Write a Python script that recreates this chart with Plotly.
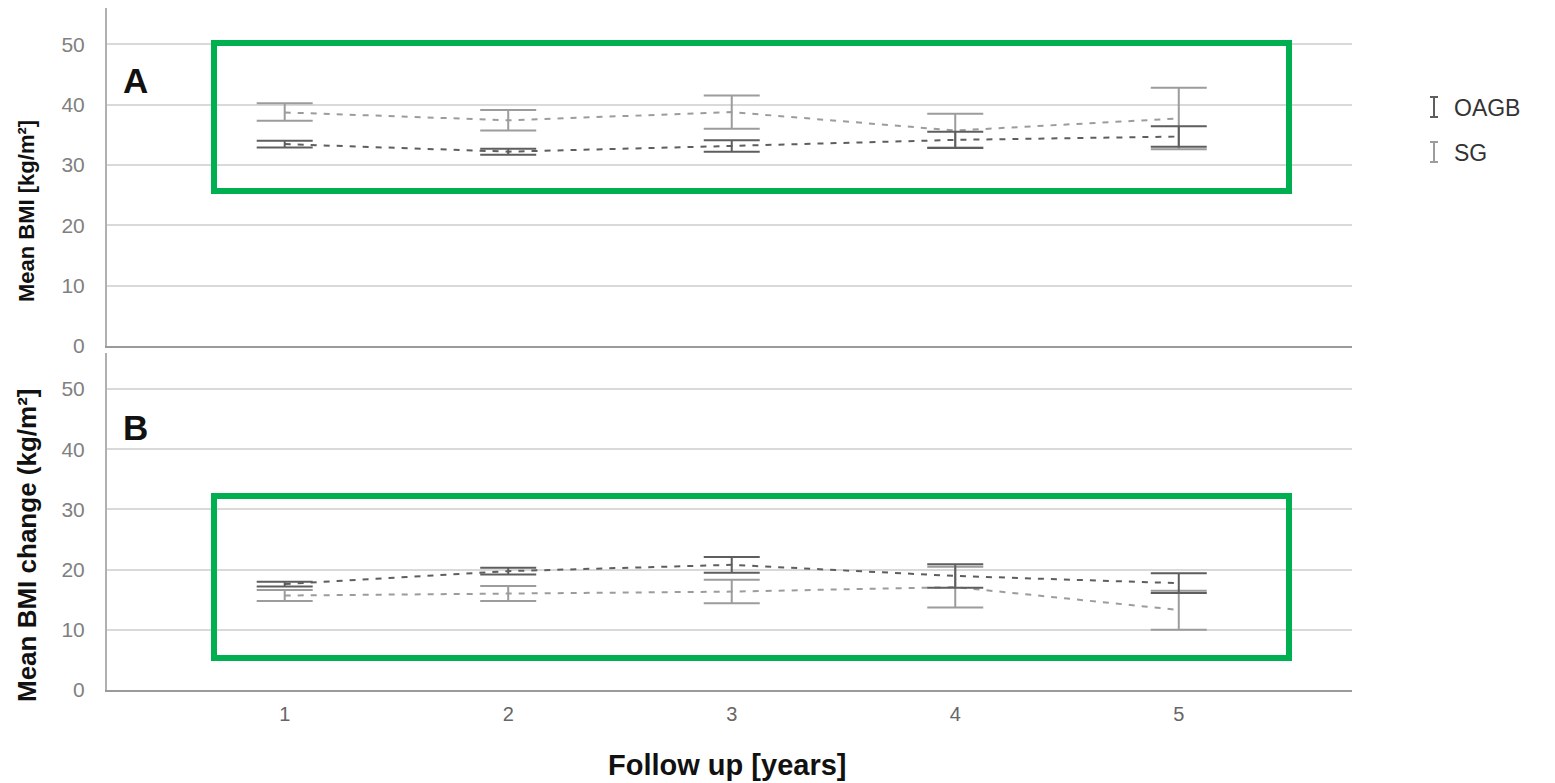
import plotly.graph_objects as go
from plotly.subplots import make_subplots

# Follow-up years
years = [1, 2, 3, 4, 5]

# Panel A: mean BMI with 95% CI bounds
bmi_oagb = [33.45, 32.2, 33.15, 34.15, 34.7]
bmi_oagb_lo = [32.9, 31.7, 32.2, 32.8, 33.0]
bmi_oagb_hi = [34.0, 32.7, 34.1, 35.5, 36.4]

bmi_sg = [38.7, 37.4, 38.75, 35.7, 37.7]
bmi_sg_lo = [37.3, 35.7, 36.0, 32.9, 32.6]
bmi_sg_hi = [40.2, 39.1, 41.5, 38.5, 42.8]

# Panel B: mean BMI change with 95% CI bounds
chg_oagb = [17.6, 19.75, 20.8, 18.95, 17.75]
chg_oagb_lo = [17.2, 19.2, 19.5, 17.0, 16.1]
chg_oagb_hi = [18.0, 20.3, 22.1, 20.9, 19.4]

chg_sg = [15.7, 16.05, 16.35, 17.1, 13.3]
chg_sg_lo = [14.8, 14.8, 14.4, 13.7, 10.0]
chg_sg_hi = [16.6, 17.3, 18.3, 20.5, 16.5]

y_ticks = [0, 10, 20, 30, 40, 50]

DARK = "#5e5e5e"
LIGHT = "#9c9c9c"
GREEN = "#00b050"

W, H = 1555, 783
L, R, T, B = 107, 203, 8, 93


def px_x(px):
    return (px - L) / (W - L - R)


def px_y(py):
    return (H - B - py) / (H - T - B)


fig = make_subplots(rows=2, cols=1, shared_xaxes=False, vertical_spacing=0.0)


def add_group(row, mean, lo, hi, color):
    fig.add_trace(
        go.Scatter(
            x=years,
            y=mean,
            mode="lines",
            line=dict(color=color, width=2, dash="6px,7px"),
            error_y=dict(
                type="data",
                symmetric=False,
                array=[h - m for h, m in zip(hi, mean)],
                arrayminus=[m - l for m, l in zip(mean, lo)],
                color=color,
                thickness=2,
                width=28,
            ),
            showlegend=False,
            hoverinfo="skip",
        ),
        row=row,
        col=1,
    )


add_group(1, bmi_sg, bmi_sg_lo, bmi_sg_hi, LIGHT)
add_group(1, bmi_oagb, bmi_oagb_lo, bmi_oagb_hi, DARK)
add_group(2, chg_sg, chg_sg_lo, chg_sg_hi, LIGHT)
add_group(2, chg_oagb, chg_oagb_lo, chg_oagb_hi, DARK)

SANS = "Liberation Sans, Arial, sans-serif"
tick_font = dict(family=SANS, size=21, color="#808080")

xaxis_common = dict(
    range=[0.205, 5.775],
    tickvals=years,
    showgrid=False,
    zeroline=False,
    showline=True,
    linecolor="#9a9a9a",
    linewidth=2,
    ticks="",
)
yaxis_common = dict(
    range=[0, 56],
    tickvals=y_ticks,
    showgrid=True,
    gridcolor="#d9d9d9",
    gridwidth=2,
    zeroline=False,
    showline=True,
    linecolor="#b0b0b0",
    linewidth=2,
    ticks="",
    ticklabelstandoff=16,
    tickfont=tick_font,
)

fig.update_layout(
    width=W,
    height=H,
    margin=dict(l=L, r=R, t=T, b=B),
    paper_bgcolor="white",
    plot_bgcolor="white",
    showlegend=False,
    xaxis=dict(**xaxis_common, domain=[0, 1], showticklabels=False),
    xaxis2=dict(
        **xaxis_common,
        domain=[0, 1],
        tickfont=dict(family=SANS, size=20, color="#666666"),
        ticklabelstandoff=5,
    ),
    yaxis=dict(**yaxis_common, domain=[px_y(346), 1]),
    yaxis2=dict(**yaxis_common, domain=[0, px_y(353)]),
)

# Axis titles
fig.add_annotation(
    x=px_x(727), y=px_y(765), xref="paper", yref="paper",
    text="<b>Follow up [years]</b>", showarrow=False,
    font=dict(family=SANS, size=29, color="#111111"),
    xanchor="center", yanchor="middle",
)
for text, size, cy in [("<b>Mean BMI [kg/m²]</b>", 22, 211),
                       ("<b>Mean BMI change (kg/m²]</b>", 26, 546)]:
    fig.add_annotation(
        x=px_x(27), y=px_y(cy), xref="paper", yref="paper",
        text=text, textangle=-90, showarrow=False,
        font=dict(family=SANS, size=size, color="#111111"),
        xanchor="center", yanchor="middle",
    )

# Panel letters
for letter, py in [("A", 80), ("B", 427)]:
    fig.add_annotation(
        x=px_x(135), y=px_y(py), xref="paper", yref="paper",
        text=f"<b>{letter}</b>", showarrow=False,
        font=dict(family=SANS, size=35, color="#111111"),
        xanchor="center", yanchor="middle",
    )

# Highlight boxes around the plotted groups
for (x0, y0, x1, y1) in [(214, 43, 1289, 191), (214, 496, 1289, 658)]:
    fig.add_shape(
        type="rect", xref="paper", yref="paper",
        x0=px_x(x0), x1=px_x(x1), y0=px_y(y1), y1=px_y(y0),
        line=dict(color=GREEN, width=6), fillcolor="rgba(0,0,0,0)",
    )

# Legend: small error-bar glyphs with group names
for name, color, cy in [("OAGB", DARK, 107), ("SG", LIGHT, 152)]:
    cx = 1434
    half_h, half_w = 10, 4
    fig.add_shape(type="line", xref="paper", yref="paper",
                  x0=px_x(cx), x1=px_x(cx), y0=px_y(cy + half_h), y1=px_y(cy - half_h),
                  line=dict(color=color, width=2))
    for dy in (-half_h, half_h):
        fig.add_shape(type="line", xref="paper", yref="paper",
                      x0=px_x(cx - half_w), x1=px_x(cx + half_w),
                      y0=px_y(cy + dy), y1=px_y(cy + dy),
                      line=dict(color=color, width=2))
    fig.add_annotation(
        x=px_x(1452), y=px_y(cy + 1), xref="paper", yref="paper",
        text=name, showarrow=False, xanchor="left", yanchor="middle",
        font=dict(family=SANS, size=23, color="#333333"),
    )

fig.write_html("out.html")
